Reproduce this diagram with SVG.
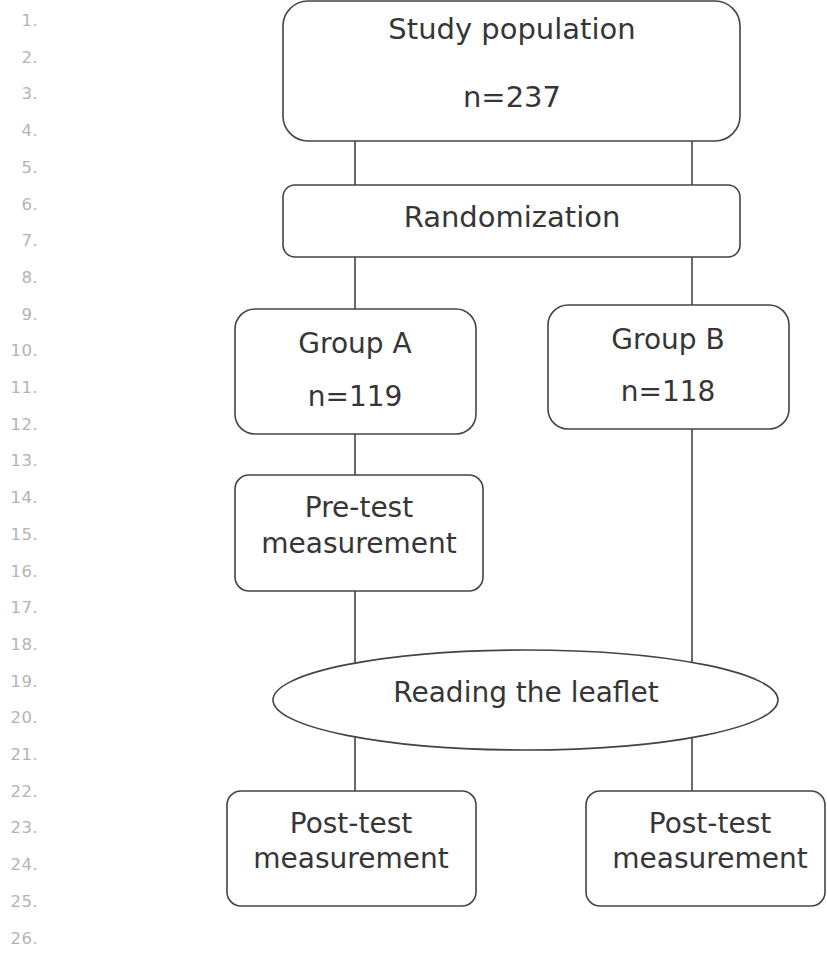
<svg xmlns="http://www.w3.org/2000/svg" width="827" height="963" viewBox="0 0 827 963">
<style>
.box{fill:#fff;stroke:#444;stroke-width:1.6}
.t{font-family:"DejaVu Sans","Liberation Sans",sans-serif;font-size:28px;fill:#363636;text-anchor:middle}
.t2{font-size:29px}
.ln{font-family:"DejaVu Sans","Liberation Sans",sans-serif;font-size:16.5px;fill:#b4b4b4;text-anchor:end;letter-spacing:0.4px}
.c{stroke:#444;stroke-width:1.6;fill:none}
</style>
<rect width="827" height="963" fill="#fff"/>
<g id="line-numbers">
<text class="ln" x="38" y="26">1.</text>
<text class="ln" x="38" y="62.7">2.</text>
<text class="ln" x="38" y="99.4">3.</text>
<text class="ln" x="38" y="136.1">4.</text>
<text class="ln" x="38" y="172.8">5.</text>
<text class="ln" x="38" y="209.5">6.</text>
<text class="ln" x="38" y="246.2">7.</text>
<text class="ln" x="38" y="282.9">8.</text>
<text class="ln" x="38" y="319.6">9.</text>
<text class="ln" x="38" y="356.3">10.</text>
<text class="ln" x="38" y="393">11.</text>
<text class="ln" x="38" y="429.7">12.</text>
<text class="ln" x="38" y="466.4">13.</text>
<text class="ln" x="38" y="503.1">14.</text>
<text class="ln" x="38" y="539.8">15.</text>
<text class="ln" x="38" y="576.5">16.</text>
<text class="ln" x="38" y="613.2">17.</text>
<text class="ln" x="38" y="649.9">18.</text>
<text class="ln" x="38" y="686.6">19.</text>
<text class="ln" x="38" y="723.3">20.</text>
<text class="ln" x="38" y="760">21.</text>
<text class="ln" x="38" y="796.7">22.</text>
<text class="ln" x="38" y="833.4">23.</text>
<text class="ln" x="38" y="870.1">24.</text>
<text class="ln" x="38" y="906.8">25.</text>
<text class="ln" x="38" y="943.5">26.</text>
</g>
<g id="connectors">
<line class="c" x1="355" y1="141" x2="355" y2="185"/>
<line class="c" x1="692" y1="141" x2="692" y2="185"/>
<line class="c" x1="355" y1="257" x2="355" y2="309"/>
<line class="c" x1="692" y1="257" x2="692" y2="305"/>
<line class="c" x1="355" y1="434" x2="355" y2="475"/>
<line class="c" x1="355" y1="591" x2="355" y2="663"/>
<line class="c" x1="692" y1="429" x2="692" y2="663"/>
<line class="c" x1="355" y1="737" x2="355" y2="791"/>
<line class="c" x1="692" y1="737" x2="692" y2="791"/>
</g>
<g id="study-population">
<rect class="box" x="283" y="1" width="457" height="140" rx="25"/>
<text class="t t2" x="512" y="39">Study population</text>
<text class="t t2" x="512" y="107">n=237</text>
</g>
<g id="randomization">
<rect class="box" x="283" y="185" width="457" height="72" rx="12"/>
<text class="t t2" x="512" y="227">Randomization</text>
</g>
<g id="group-a">
<rect class="box" x="235" y="309" width="241" height="125" rx="20"/>
<text class="t" x="355" y="353">Group A</text>
<text class="t" x="355" y="406">n=119</text>
</g>
<g id="group-b">
<rect class="box" x="548" y="305" width="241" height="124" rx="20"/>
<text class="t" x="668" y="349">Group B</text>
<text class="t" x="668" y="401">n=118</text>
</g>
<g id="pre-test">
<rect class="box" x="235" y="475" width="248" height="116" rx="14"/>
<text class="t" x="359" y="517">Pre-test</text>
<text class="t" x="359" y="553">measurement</text>
</g>
<g id="reading-leaflet">
<ellipse class="box" cx="525.5" cy="700" rx="252.5" ry="50"/>
<text class="t" x="526" y="702">Reading the leaflet</text>
</g>
<g id="post-test-a">
<rect class="box" x="227" y="791" width="249" height="115" rx="14"/>
<text class="t" x="351" y="833">Post-test</text>
<text class="t" x="351" y="868">measurement</text>
</g>
<g id="post-test-b">
<rect class="box" x="586" y="791" width="239" height="115" rx="14"/>
<text class="t" x="710" y="833">Post-test</text>
<text class="t" x="710" y="868">measurement</text>
</g>
</svg>
